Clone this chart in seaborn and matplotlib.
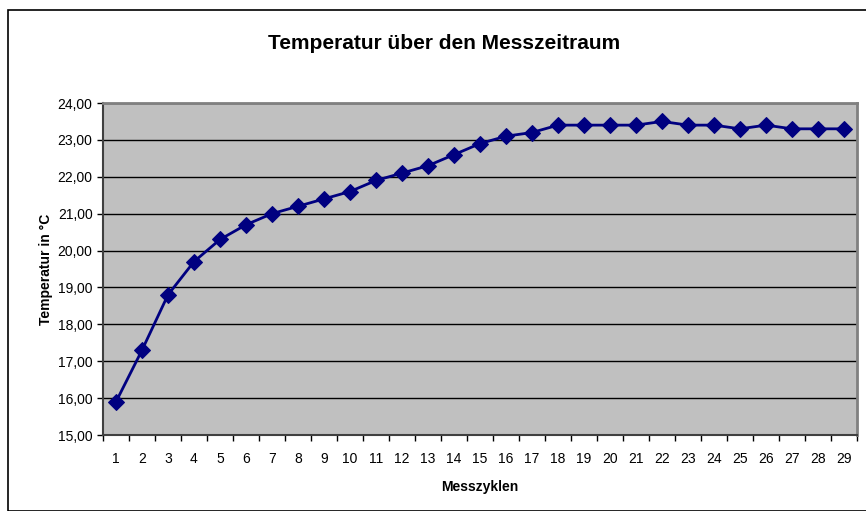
import numpy as np
import pandas as pd
import seaborn as sns
import matplotlib.pyplot as plt
from matplotlib.patches import Rectangle
from matplotlib.ticker import FixedLocator, FuncFormatter

zyklen = list(range(1, 30))
temperatur = [15.9, 17.3, 18.8, 19.7, 20.3, 20.7, 21.0, 21.2, 21.4, 21.6,
              21.9, 22.1, 22.3, 22.6, 22.9, 23.1, 23.2, 23.4, 23.4, 23.4,
              23.4, 23.5, 23.4, 23.4, 23.3, 23.4, 23.3, 23.3, 23.3]

df = pd.DataFrame({'Messzyklen': zyklen, 'Temperatur': temperatur})

sns.set_style('white')
plt.rcParams['font.family'] = ['Liberation Sans', 'DejaVu Sans']
plt.rcParams['text.color'] = 'black'
plt.rcParams['xtick.color'] = 'black'
plt.rcParams['ytick.color'] = 'black'
plt.rcParams['axes.labelcolor'] = 'black'

fig = plt.figure(figsize=(8.66, 5.11), dpi=100)
# aussenrahmen wie im excel-diagramm
fig.patches.append(Rectangle((8 / 866, 0), 1.2, 1 - 10 / 511, transform=fig.transFigure,
                             fill=False, edgecolor='black', linewidth=1.2))

ax = fig.add_axes([103 / 866, 1 - 435 / 511, (857 - 103) / 866, (435 - 103) / 511])
ax.set_facecolor('#C0C0C0')

sns.lineplot(x='Messzyklen', y='Temperatur', data=df, ax=ax, color='#000080',
             linewidth=2, marker='D', markersize=8, markeredgecolor='#000080')

ax.set_xlim(0.5, 29.5)
ax.set_ylim(15, 24)
ax.set_yticks(np.arange(15, 24.5, 1))
ax.yaxis.set_major_formatter(FuncFormatter(lambda v, p: f'{v:.2f}'.replace('.', ',')))
ax.grid(axis='y', color='black', linewidth=1)
ax.grid(axis='x', visible=False)

ax.set_xticks(zyklen)
ax.xaxis.set_minor_locator(FixedLocator(np.arange(0.5, 30, 1)))
ax.tick_params(axis='x', which='major', length=0, labelsize=10, pad=12)
ax.tick_params(axis='x', which='minor', length=4, width=1, color='black', direction='out', bottom=True)
ax.tick_params(axis='y', length=4, width=1, color='black', direction='out', labelsize=10, left=True)

for s in ['left', 'bottom']:
    ax.spines[s].set_color('#404040')
    ax.spines[s].set_linewidth(1.5)
for s in ['top', 'right']:
    ax.spines[s].set_color('#808080')
    ax.spines[s].set_linewidth(2)

ax.set_xlabel('Messzyklen', fontsize=10, fontweight='bold', labelpad=10)
ax.set_ylabel('Temperatur in °C', fontsize=10, fontweight='bold', labelpad=3)
fig.text(444 / 866, 1 - 43 / 511, 'Temperatur über den Messzeitraum', ha='center', va='center',
         fontsize=15, fontweight='bold')

fig.savefig('out.png', dpi=100)
